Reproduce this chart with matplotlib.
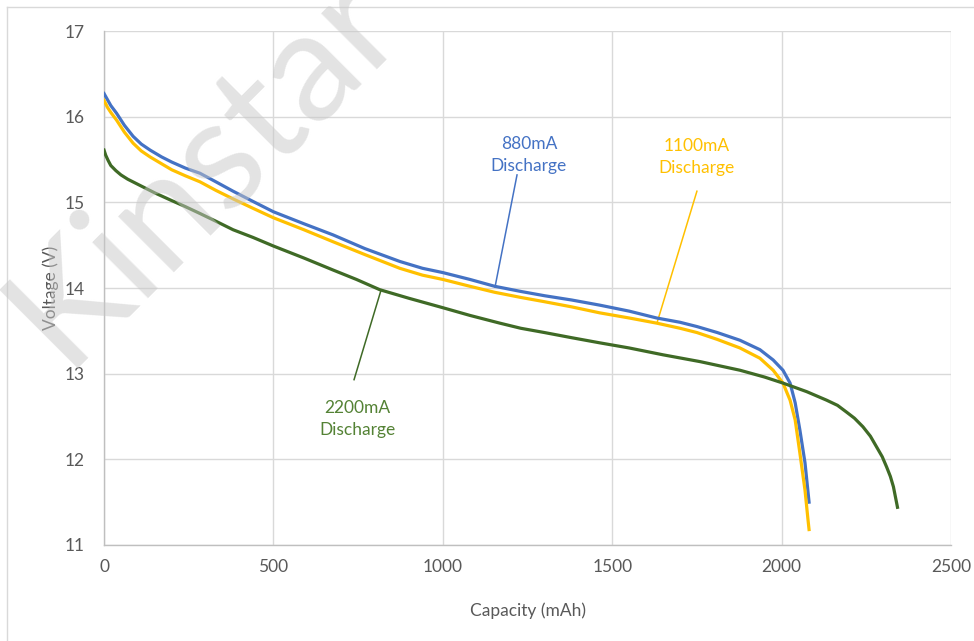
import matplotlib
matplotlib.use("Agg")
import matplotlib.pyplot as plt
from matplotlib.lines import Line2D

plt.rcParams['font.family'] = ['Lato', 'DejaVu Sans']

# ---------------- Data ------------------------------------
cap_880 = [0, 10, 20, 37, 60, 86, 110, 136, 170, 200, 240, 283, 330, 381, 440, 500, 590,
           676, 770, 873, 940, 1000, 1080, 1153, 1230, 1300, 1380, 1463, 1550, 1631, 1700,
           1750, 1810, 1877, 1936, 1975, 2004, 2025, 2040, 2054, 2069, 2081]
volt_880 = [16.27, 16.20, 16.13, 16.04, 15.90, 15.77, 15.68, 15.61, 15.53, 15.47, 15.40,
            15.34, 15.24, 15.13, 15.01, 14.89, 14.75, 14.62, 14.46, 14.31, 14.23, 14.18,
            14.10, 14.02, 13.96, 13.91, 13.86, 13.80, 13.73, 13.65, 13.60, 13.55, 13.48,
            13.39, 13.28, 13.16, 13.04, 12.89, 12.66, 12.34, 11.96, 11.50]

cap_1100 = [0, 10, 20, 37, 60, 86, 110, 136, 170, 200, 240, 283, 330, 381, 440, 500, 590,
            676, 770, 873, 940, 1000, 1080, 1153, 1230, 1300, 1380, 1463, 1550, 1631, 1700,
            1750, 1810, 1877, 1936, 1975, 2004, 2025, 2040, 2054, 2069, 2078, 2081]
volt_1100 = [16.19, 16.11, 16.05, 15.96, 15.82, 15.69, 15.60, 15.53, 15.45, 15.38, 15.31,
             15.24, 15.14, 15.04, 14.93, 14.82, 14.68, 14.54, 14.39, 14.23, 14.15, 14.10,
             14.02, 13.95, 13.89, 13.84, 13.78, 13.71, 13.65, 13.59, 13.53, 13.48, 13.40,
             13.30, 13.18, 13.04, 12.89, 12.69, 12.46, 12.07, 11.64, 11.29, 11.18]

cap_2200 = [0, 5, 12, 20, 35, 50, 70, 90, 115, 150, 200, 240, 283, 330, 381, 440, 500,
            590, 676, 745, 814, 900, 1000, 1080, 1168, 1230, 1300, 1380, 1463, 1550, 1650,
            1760, 1877, 1950, 2004, 2074, 2133, 2165, 2192, 2215, 2240, 2262, 2281, 2297,
            2310, 2321, 2330, 2342]
volt_2200 = [15.61, 15.55, 15.49, 15.43, 15.37, 15.32, 15.27, 15.23, 15.18, 15.11, 15.02,
             14.95, 14.87, 14.78, 14.68, 14.59, 14.49, 14.35, 14.21, 14.10, 13.98, 13.88,
             13.77, 13.68, 13.59, 13.53, 13.48, 13.42, 13.36, 13.30, 13.22, 13.14, 13.04,
             12.96, 12.89, 12.79, 12.69, 12.63, 12.55, 12.48, 12.38, 12.27, 12.14, 12.03,
             11.91, 11.80, 11.68, 11.44]

x_ticks = [0, 500, 1000, 1500, 2000, 2500]
y_ticks = [11, 12, 13, 14, 15, 16, 17]

# label text position, leader line start and end (mAh, V)
labels = ['880mA\nDischarge', '1100mA\nDischarge', '2200mA\nDischarge']
label_xy = [(1254, 15.55), (1750, 15.53), (747, 12.47)]
leader_from = [(1219, 15.32), (1750, 15.13), (738, 12.93)]
leader_to = [(1154, 14.01), (1632, 13.59), (818, 13.98)]

blue = '#4472C4'
yellow = '#FFC000'
green = '#3F6A26'
green_txt = '#548235'

# ---------------- Plot -----------------
fig = plt.figure(figsize=(9.74, 6.41), dpi=100)
ax = fig.add_axes([0.1068, 0.1498, 0.8696, 0.8018])

ax.plot(cap_880, volt_880, color=blue, lw=2.3, zorder=3)
ax.plot(cap_1100, volt_1100, color=yellow, lw=2.3, zorder=3)
ax.plot(cap_2200, volt_2200, color=green, lw=2.3, zorder=3)

ax.set_xlim(0, 2500)
ax.set_ylim(11, 17)
ax.set_xticks(x_ticks)
ax.set_yticks(y_ticks)
ax.grid(True, color='#d9d9d9', lw=1)
ax.set_axisbelow(True)
for s in ['top', 'right']:
    ax.spines[s].set_visible(False)
for s in ['left', 'bottom']:
    ax.spines[s].set_color('#bfbfbf')
    ax.spines[s].set_linewidth(1)
ax.tick_params(length=0, labelsize=12.5, colors='#595959', pad=10)
ax.tick_params(axis='y', pad=14)

ax.set_xlabel('Capacity (mAh)', fontsize=12.5, color='#595959', labelpad=20)
ax.set_ylabel('Voltage (V)', fontsize=12.5, color='#595959', labelpad=4)

txt_colors = [blue, yellow, green_txt]
line_colors = [blue, yellow, green]
for lab, (tx, ty), (x0, y0), (x1, y1), tc, lc in zip(labels, label_xy, leader_from,
                                                      leader_to, txt_colors, line_colors):
    ax.text(tx, ty, lab, ha='center', va='center', fontsize=12.5, linespacing=1.5, color=tc)
    ax.plot([x0, x1], [y0, y1], color=lc, lw=1.1, zorder=2)

# chart frame
fig.add_artist(Line2D([7/974, 1], [1-7/641, 1-7/641], color='#d9d9d9', lw=1))
fig.add_artist(Line2D([7/974, 7/974], [0, 1-7/641], color='#d9d9d9', lw=1))

# watermark
fig.text(0.21, 0.74, 'Kinstar', fontsize=112, color='#c8c8c8', alpha=0.5,
         rotation=45, ha='center', va='center', zorder=10)

fig.savefig('out.png', dpi=100)
